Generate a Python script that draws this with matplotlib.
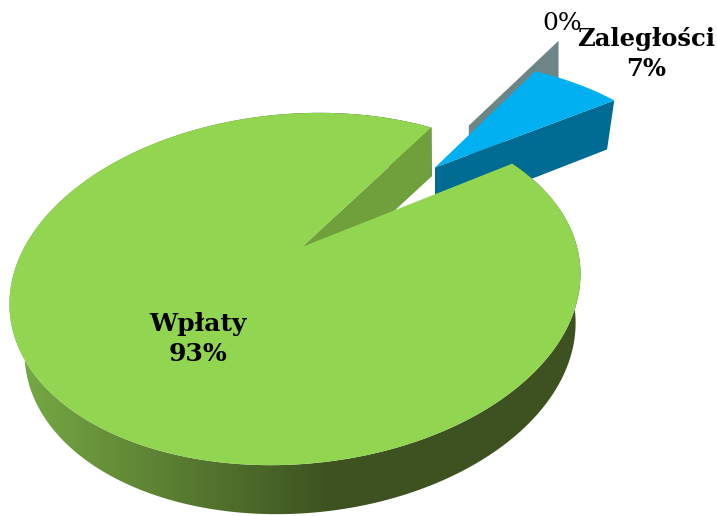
import numpy as np
import matplotlib
matplotlib.use('Agg')
import matplotlib.pyplot as plt
from matplotlib.colors import LinearSegmentedColormap
from matplotlib.patches import Polygon

categories = ['Wpłaty', '', 'Zaległości']
values = [93, 0, 7]
labels = ['Wpłaty\n93%', '0%', 'Zaległości\n7%']

start_angle = 58.0
green = '#92D551'
green_cut = '#70A03C'
green_light = '#74A642'
green_dark = '#3D5220'
blue = '#00B0F0'
blue_wall = '#006C94'
grey = '#6C8587'

# the pie plane is a disc seen in perspective
cx, cy = 298., 247.
A, B, k = 277., 166., 0.2386
shear = 12.
tilt = -7.
apex_x = 4.
drop = 49.


def project(u, v):
    u = np.asarray(u)
    v = np.asarray(v)
    w = 1 + k * v
    x = cx + A * u / w + shear * v / w
    y = cy - B * v / w + tilt * u / w
    return x, y


def rim(a, off=(0, 0)):
    a = np.radians(a)
    return np.sin(a) + off[0], np.cos(a) + off[1]


fractions = np.array(values) / float(sum(values))
edges = start_angle + 360 * np.concatenate([[0], np.cumsum(fractions)])

fig = plt.figure(figsize=(7.17, 5.16), dpi=100)
ax = fig.add_axes([0, 0, 1, 1])
ax.axis('off')


# cut face of a slice, from its apex out to the rim
def wall(a, off, color, z, s=1.0, apex_shift=0):
    u, v = rim(a, off)
    x, y = project([off[0], u], [off[1], v])
    x[0] += apex_shift
    xb = x[0] + (x - x[0]) * s
    ax.fill(np.r_[x, xb[::-1]], np.r_[y, y[::-1] + drop], color=color, lw=0, zorder=z)


# 0% slice, only its cut face shows
grey_off = (0.705, 0.85)
wall(edges[1], grey_off, grey, 1)

# exploded blue slice
blue_off = (0.533, 0.515)
wall(edges[3], blue_off, blue_wall, 2, s=0.96)
t = np.linspace(edges[2], edges[3], 40)
u, v = rim(t, blue_off)
x, y = project(np.r_[blue_off[0], u], np.r_[blue_off[1], v])
ax.fill(x, y, color=blue, lw=0, zorder=3)

# green outer wall, shaded from left to right
t = np.linspace(edges[0], edges[1], 500)
u, v = rim(t)
xt, yt = project(u, v)
xb = cx + (xt - cx) * 0.965 + 5
yb = yt + drop
shade = LinearSegmentedColormap.from_list('shade', [green_light, green_dark])
grad = np.clip((np.arange(717) - 30) / 300., 0, 1).reshape(1, -1)
im = ax.imshow(grad, extent=(0, 717, 516, 0), cmap=shade, aspect='auto', zorder=4)
side = Polygon(np.c_[np.r_[xt, xb[::-1]], np.r_[yt, yb[::-1]]], closed=True, transform=ax.transData)
im.set_clip_path(side)

wall(edges[1], (0, 0), green_cut, 5, apex_shift=apex_x)

x, y = project(np.r_[0, u], np.r_[0, v])
x[0] += apex_x
ax.fill(x, y, color=green, lw=0, zorder=6)

ax.set_xlim(0, 717)
ax.set_ylim(516, 0)

font = dict(family='DejaVu Serif', color='black', ha='center', va='center', linespacing=1.3, zorder=7)
ax.text(198, 339, labels[0], fontsize=18, fontweight='bold', **font)
ax.text(562, 23, labels[1], fontsize=18, **font)
ax.text(646.5, 54, labels[2], fontsize=17.5, fontweight='bold', **font)

fig.savefig('out.png', dpi=100)
